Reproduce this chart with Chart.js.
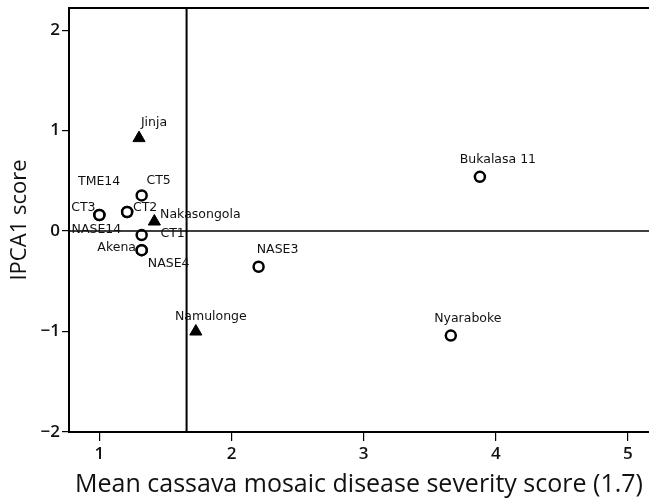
<!DOCTYPE html>
<html>
<head>
<meta charset="utf-8">
<script src="https://cdn.jsdelivr.net/npm/chart.js@4"></script>
<style>
  html, body { margin: 0; padding: 0; background: #fff; }
  #wrap { width: 649px; height: 500px; }
</style>
</head>
<body>
<div id="wrap"><canvas id="ammiChart" width="649" height="500"></canvas></div>
<script>
// Genotypes (open circles) and sites (filled triangles)
const genotypeNames = ['CT5', 'CT3', 'NASE14', 'CT2', 'TME14', 'CT1', 'Akena', 'NASE4', 'NASE3', 'Bukalasa 11', 'Nyaraboke'];
const genotypeCmd = [1.32, 1.00, 1.00, 1.21, 1.21, 1.32, 1.32, 1.32, 2.205, 3.88, 3.66];
const genotypeIpca = [0.355, 0.16, 0.16, 0.19, 0.19, -0.04, -0.19, -0.19, -0.355, 0.54, -1.04];

const siteNames = ['Jinja', 'Nakasongola', 'Namulonge'];
const siteCmd = [1.30, 1.416, 1.73];
const siteIpca = [0.925, 0.095, -1.0];

// reference lines: grand mean severity and IPCA1 = 0
const meanCmd = 1.66;
const zeroIpca = 0;

const xTicks = [1, 2, 3, 4, 5];
const yTicks = [-2, -1, 0, 1, 2];
const xRange = [0.77, 5.16];
const yRange = [-2, 2.22];

// label placement (pixels from the marker centre)
const labelOffsets = {
  'CT5': [17, -15], 'CT3': [-16, -7], 'NASE14': [-3, 15], 'CT2': [18, -4],
  'TME14': [-28, -30], 'CT1': [31, -1], 'Akena': [-25, -2], 'NASE4': [27, 14],
  'NASE3': [19, -17], 'Bukalasa 11': [18, -17], 'Nyaraboke': [17, -17],
  'Jinja': [15, -15], 'Nakasongola': [46, -7], 'Namulonge': [15, -15]
};

const toPoints = (xs, ys) => xs.map((x, i) => ({ x: x, y: ys[i] }));

const pointLabels = {
  id: 'pointLabels',
  afterDatasetsDraw(chart) {
    const ctx = chart.ctx;
    ctx.save();
    ctx.font = '12.5px "DejaVu Sans"';
    ctx.fillStyle = '#111';
    ctx.textAlign = 'center';
    ctx.textBaseline = 'middle';
    chart.data.datasets.forEach((ds, di) => {
      if (!ds.names) return;
      chart.getDatasetMeta(di).data.forEach((pt, i) => {
        const name = ds.names[i];
        const off = labelOffsets[name] || [0, -14];
        ctx.fillText(name, pt.x + off[0], pt.y + off[1]);
      });
    });
    ctx.restore();
  }
};

// top frame line
const topFrame = {
  id: 'topFrame',
  beforeDatasetsDraw(chart) {
    const a = chart.chartArea, ctx = chart.ctx;
    ctx.save();
    ctx.strokeStyle = '#000';
    ctx.lineWidth = 2;
    ctx.beginPath();
    ctx.moveTo(a.left, a.top);
    ctx.lineTo(a.right, a.top);
    ctx.stroke();
    ctx.restore();
  }
};

new Chart(document.getElementById('ammiChart'), {
  type: 'scatter',
  data: {
    datasets: [
      {
        data: [{ x: meanCmd, y: yRange[0] }, { x: meanCmd, y: yRange[1] }],
        showLine: true, borderColor: '#000', borderWidth: 2, pointRadius: 0
      },
      {
        data: [{ x: xRange[0], y: zeroIpca }, { x: xRange[1], y: zeroIpca }],
        showLine: true, borderColor: '#000', borderWidth: 1.5, pointRadius: 0
      },
      {
        names: siteNames,
        data: toPoints(siteCmd, siteIpca),
        pointStyle: 'triangle', pointRadius: 7,
        backgroundColor: '#000', borderColor: '#000', borderWidth: 1
      },
      {
        names: genotypeNames,
        data: toPoints(genotypeCmd, genotypeIpca),
        pointStyle: 'circle', pointRadius: 5,
        backgroundColor: '#fff', borderColor: '#000', borderWidth: 2.5
      }
    ]
  },
  options: {
    responsive: false,
    animation: false,
    layout: { autoPadding: false, padding: { top: 8, right: 0, left: 0, bottom: 0 } },
    plugins: { legend: { display: false }, tooltip: { enabled: false } },
    scales: {
      x: {
        type: 'linear',
        min: xRange[0], max: xRange[1],
        afterBuildTicks: s => { s.ticks = xTicks.map(v => ({ value: v })); },
        afterFit: s => { s.height = 68; s.paddingLeft = 0; s.paddingRight = 0; },
        grid: { drawOnChartArea: false, drawTicks: true, tickLength: 9, color: '#000', lineWidth: 1.2 },
        border: { display: true, color: '#000', width: 2 },
        ticks: { color: '#111', font: { family: 'Open Sans', size: 17, weight: '600' }, padding: 3 },
        title: {
          display: true,
          text: 'Mean cassava mosaic disease severity score (1.7)',
          color: '#111',
          font: { family: 'Open Sans', size: 25 },
          padding: { top: 0, bottom: 0 }
        }
      },
      y: {
        type: 'linear',
        min: yRange[0], max: yRange[1],
        afterBuildTicks: s => { s.ticks = yTicks.map(v => ({ value: v })); },
        afterFit: s => { s.width = 69; s.paddingTop = 0; s.paddingBottom = 0; },
        grid: { drawOnChartArea: false, drawTicks: true, tickLength: 7, color: '#000', lineWidth: 1.2 },
        border: { display: true, color: '#000', width: 2 },
        ticks: {
          color: '#111', font: { family: 'Open Sans', size: 17, weight: '600' }, padding: 2,
          callback: v => (v < 0 ? '\u2212' + Math.abs(v) : String(v))
        },
        title: {
          display: true,
          text: 'IPCA1 score',
          color: '#111',
          font: { family: 'Open Sans', size: 22 },
          padding: { top: 7, bottom: 2 }
        }
      }
    }
  },
  plugins: [topFrame, pointLabels]
});
</script>
</body>
</html>
